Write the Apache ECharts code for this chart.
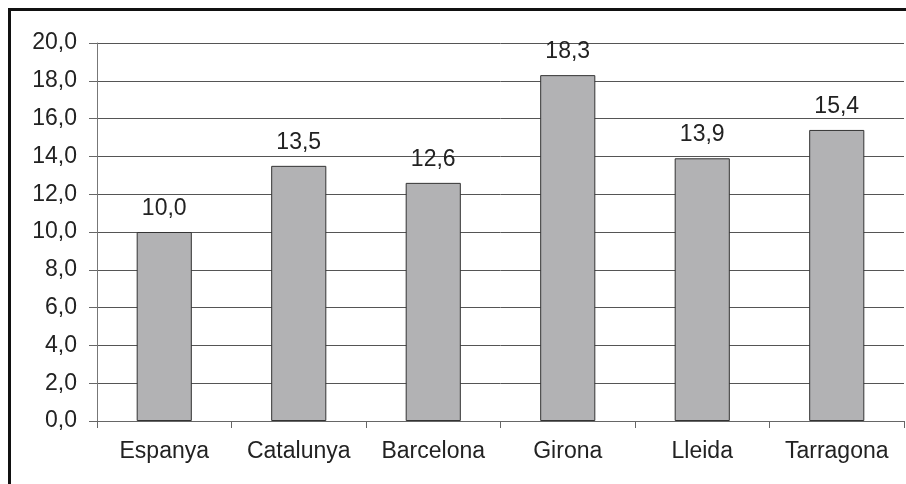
<!DOCTYPE html>
<html>
<head>
<meta charset="utf-8">
<script src="https://cdn.jsdelivr.net/npm/echarts@6/dist/echarts.min.js"></script>
<style>html,body{margin:0;padding:0;background:#fff;}#c{width:906px;height:484px;}</style>
</head>
<body>
<div id="c"></div>
<script>
var categories = ['Espanya', 'Catalunya', 'Barcelona', 'Girona', 'Lleida', 'Tarragona'];
var values = [10.0, 13.5, 12.6, 18.3, 13.9, 15.4];
var yMin = 0, yMax = 20, yStep = 2;

function fmt(v) { return v.toFixed(1).replace('.', ','); }
var FONT = 'Liberation Sans, Arial, sans-serif';

var chart = echarts.init(document.getElementById('c'), null, {renderer: 'canvas'});
chart.setOption({
  backgroundColor: '#fff',
  animation: false,
  textStyle: {fontFamily: FONT},
  graphic: [{
    type: 'rect', z: 100, silent: true,
    shape: {x: 9.5, y: 9.5, width: 920, height: 500},
    style: {fill: 'none', stroke: '#111', lineWidth: 3}
  }],
  grid: {left: 97, top: 43, right: 2, bottom: 63, containLabel: false},
  xAxis: {
    type: 'category',
    data: categories,
    axisLine: {lineStyle: {color: '#666', width: 1}},
    axisTick: {show: true, interval: 0, length: 7, alignWithLabel: false, lineStyle: {color: '#666'}},
    axisLabel: {color: '#222', fontSize: 23, margin: 19, interval: 0, hideOverlap: false, fontFamily: FONT}
  },
  yAxis: {
    type: 'value',
    min: yMin, max: yMax, interval: yStep,
    axisLine: {show: true, lineStyle: {color: '#777', width: 1}},
    axisTick: {show: true, length: 8, lineStyle: {color: '#666'}},
    axisLabel: {color: '#222', fontSize: 23, margin: 20, formatter: function (v) { return fmt(v); }, fontFamily: FONT},
    splitLine: {show: true, lineStyle: {color: '#555', width: 1}}
  },
  series: [{
    type: 'bar',
    data: values,
    barWidth: '41%',
    itemStyle: {color: '#b2b2b4', borderColor: '#333', borderWidth: 1},
    label: {
      show: true, position: 'top', distance: 12,
      color: '#222', fontSize: 23, fontFamily: FONT,
      formatter: function (p) { return fmt(p.value); }
    }
  }]
});
</script>
</body>
</html>
